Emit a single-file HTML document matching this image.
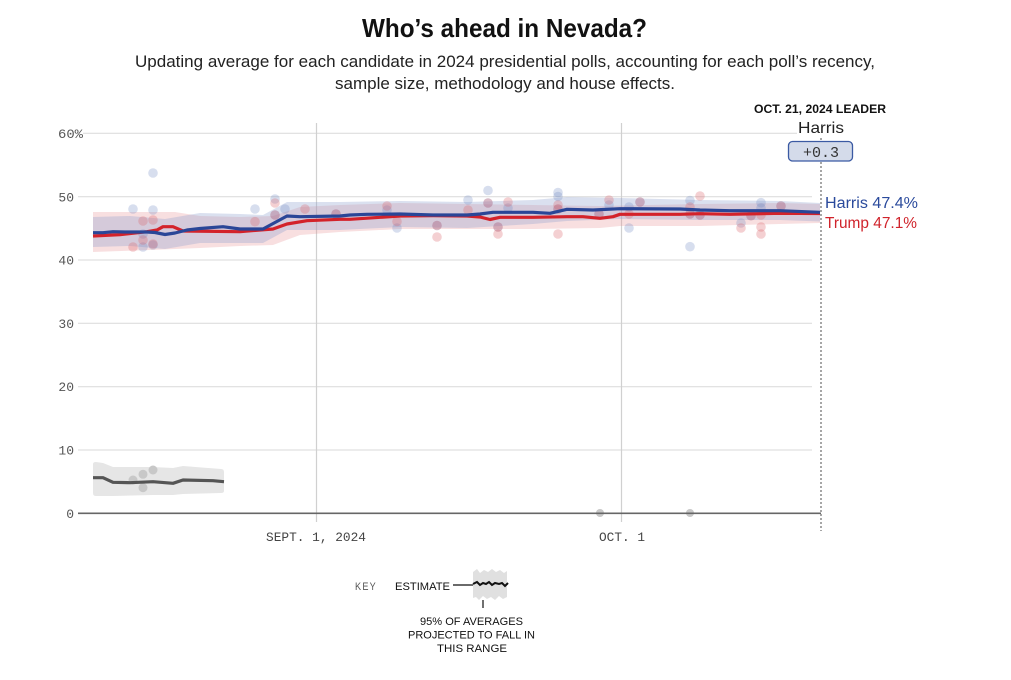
<!DOCTYPE html>
<html>
<head>
<meta charset="utf-8">
<style>
  html,body{margin:0;padding:0;background:#fff;}
  svg{display:block;}
  .sans{font-family:"Liberation Sans", sans-serif;}
  .mono{font-family:"Liberation Mono", monospace;}
</style>
</head>
<body>
<svg width="1011" height="680" viewBox="0 0 1011 680" xmlns="http://www.w3.org/2000/svg">
  <rect width="1011" height="680" fill="#fff"/>

  <!-- Title -->
  <text class="sans" x="362" y="37" font-size="26" font-weight="bold" fill="#111" textLength="285" lengthAdjust="spacingAndGlyphs">Who’s ahead in Nevada?</text>
  <text class="sans" x="135" y="67" font-size="17" fill="#222" textLength="740" lengthAdjust="spacingAndGlyphs">Updating average for each candidate in 2024 presidential polls, accounting for each poll’s recency,</text>
  <text class="sans" x="335" y="89" font-size="17" fill="#222" textLength="340" lengthAdjust="spacingAndGlyphs">sample size, methodology and house effects.</text>

  <!-- Gridlines -->
  <g stroke="#d9d9d9" stroke-width="1">
    <line x1="83" y1="133.3" x2="797" y2="133.3"/>
    <line x1="78" y1="196.7" x2="812" y2="196.7"/>
    <line x1="78" y1="260" x2="812" y2="260"/>
    <line x1="78" y1="323.3" x2="812" y2="323.3"/>
    <line x1="78" y1="386.7" x2="812" y2="386.7"/>
    <line x1="78" y1="450" x2="812" y2="450"/>
  </g>
  <!-- vertical date lines -->
  <g stroke="#d0d0d0" stroke-width="1.2">
    <line x1="316.5" y1="123" x2="316.5" y2="522"/>
    <line x1="621.5" y1="123" x2="621.5" y2="522"/>
  </g>

  <!-- Y labels -->
  <g class="mono" font-size="13" fill="#555">
    <text x="58" y="138" textLength="25" lengthAdjust="spacingAndGlyphs">60%</text>
    <text x="74" y="201.5" text-anchor="end">50</text>
    <text x="74" y="264.5" text-anchor="end">40</text>
    <text x="74" y="328" text-anchor="end">30</text>
    <text x="74" y="391" text-anchor="end">20</text>
    <text x="74" y="454.5" text-anchor="end">10</text>
    <text x="74" y="518" text-anchor="end">0</text>
  </g>

  <!-- X labels -->
  <g class="mono" font-size="13" fill="#444">
    <text x="266" y="541" textLength="100" lengthAdjust="spacingAndGlyphs">SEPT. 1, 2024</text>
    <text x="599" y="541" textLength="46" lengthAdjust="spacingAndGlyphs">OCT. 1</text>
  </g>

  <!-- Bands -->
  <path d="M93,212 L150,212 L175,212 L200,216 L240,217 L273,216 L300,207 L340,205 L400,203 L467,204 L533,205 L600,206 L700,204 L780,203 L820,204 L820,223 L780,224 L700,226 L620,226 L600,228 L533,229 L467,229 L400,229 L340,232 L300,235 L273,245 L240,246 L200,248 L150,250 L93,252 Z" fill="#e58c90" fill-opacity="0.28"/>
  <path d="M93,217 L130,216 L165,219 L200,213 L240,214 L263,215 L287,202 L340,202 L400,201 L467,202 L533,200 L567,197 L620,198 L700,200 L780,201 L820,203 L820,221.5 L780,220 L700,220 L620,219 L567,221 L533,224 L467,228 L400,227 L340,230 L287,230 L263,243 L240,243 L200,243 L165,249 L130,246 L93,247 Z" fill="#8fa0cf" fill-opacity="0.33"/>

  <!-- Gray band -->
  <path d="M93,464 Q93,462 96,462 L103,463 L113,467 L153,467 L173,468 L183,466 L221,469 Q224,469 224,472 L224,491 Q224,493 221,493 L183,494 L173,495 L153,495 L113,496 L96,496 Q93,496 93,493 Z" fill="#e6e6e6"/>

  <!-- Dots: blue -->
  <g fill="rgb(110,135,195)" fill-opacity="0.28">
    <circle cx="133" cy="209" r="4.8"/>
    <circle cx="153" cy="173" r="4.8"/>
    <circle cx="153" cy="210" r="4.8"/>
    <circle cx="143" cy="247" r="4.8"/>
    <circle cx="153" cy="245" r="4.8"/>
    <circle cx="143" cy="234" r="4.8"/>
    <circle cx="255" cy="209" r="4.8"/>
    <circle cx="275" cy="199" r="4.8"/>
    <circle cx="285" cy="209" r="4.8"/>
    <circle cx="275" cy="215" r="4.8"/>
    <circle cx="336" cy="214" r="4.8"/>
    <circle cx="387" cy="210" r="4.8"/>
    <circle cx="397" cy="228" r="4.8"/>
    <circle cx="437" cy="225.5" r="4.8"/>
    <circle cx="468" cy="200" r="4.8"/>
    <circle cx="488" cy="190.5" r="4.8"/>
    <circle cx="488" cy="203" r="4.8"/>
    <circle cx="498" cy="227" r="4.8"/>
    <circle cx="508" cy="208" r="4.8"/>
    <circle cx="558" cy="192.5" r="4.8"/>
    <circle cx="558" cy="196.5" r="4.8"/>
    <circle cx="558" cy="209" r="4.8"/>
    <circle cx="599" cy="214" r="4.8"/>
    <circle cx="609" cy="205" r="4.8"/>
    <circle cx="629" cy="207" r="4.8"/>
    <circle cx="629" cy="228" r="4.8"/>
    <circle cx="640" cy="202" r="4.8"/>
    <circle cx="690" cy="200.5" r="4.8"/>
    <circle cx="690" cy="214" r="4.8"/>
    <circle cx="700" cy="215" r="4.8"/>
    <circle cx="690" cy="246.7" r="4.8"/>
    <circle cx="741" cy="223" r="4.8"/>
    <circle cx="751" cy="215.7" r="4.8"/>
    <circle cx="761" cy="202.7" r="4.8"/>
    <circle cx="761" cy="208" r="4.8"/>
    <circle cx="781" cy="206" r="4.8"/>
  </g>
  <!-- Dots: red -->
  <g fill="rgb(220,100,105)" fill-opacity="0.3">
    <circle cx="133" cy="247" r="4.8"/>
    <circle cx="143" cy="221" r="4.8"/>
    <circle cx="153" cy="220" r="4.8"/>
    <circle cx="143" cy="240" r="4.8"/>
    <circle cx="153" cy="244" r="4.8"/>
    <circle cx="255" cy="221.7" r="4.8"/>
    <circle cx="275" cy="203" r="4.8"/>
    <circle cx="275" cy="215" r="4.8"/>
    <circle cx="305" cy="209" r="4.8"/>
    <circle cx="336" cy="214" r="4.8"/>
    <circle cx="387" cy="206" r="4.8"/>
    <circle cx="397" cy="221.5" r="4.8"/>
    <circle cx="437" cy="225.5" r="4.8"/>
    <circle cx="437" cy="237" r="4.8"/>
    <circle cx="468" cy="210" r="4.8"/>
    <circle cx="488" cy="203" r="4.8"/>
    <circle cx="498" cy="227" r="4.8"/>
    <circle cx="498" cy="234" r="4.8"/>
    <circle cx="508" cy="202" r="4.8"/>
    <circle cx="558" cy="205" r="4.8"/>
    <circle cx="558" cy="209" r="4.8"/>
    <circle cx="558" cy="234" r="4.8"/>
    <circle cx="599" cy="214" r="4.8"/>
    <circle cx="609" cy="200" r="4.8"/>
    <circle cx="629" cy="214" r="4.8"/>
    <circle cx="640" cy="202" r="4.8"/>
    <circle cx="700" cy="196" r="4.8"/>
    <circle cx="690" cy="207" r="4.8"/>
    <circle cx="690" cy="214" r="4.8"/>
    <circle cx="700" cy="215" r="4.8"/>
    <circle cx="741" cy="228" r="4.8"/>
    <circle cx="751" cy="215.7" r="4.8"/>
    <circle cx="761" cy="215" r="4.8"/>
    <circle cx="761" cy="227" r="4.8"/>
    <circle cx="761" cy="234" r="4.8"/>
    <circle cx="781" cy="206" r="4.8"/>
  </g>
  <!-- Dots: gray -->
  <g fill="#c8c8c8">
    <circle cx="133" cy="480" r="4.5"/>
    <circle cx="143" cy="474.3" r="4.5"/>
    <circle cx="143" cy="487.7" r="4.5"/>
    <circle cx="153" cy="470" r="4.5"/>
    <circle cx="600" cy="513" r="4"/>
    <circle cx="690" cy="513" r="4"/>
  </g>

  <!-- zero line -->
  <line x1="78" y1="513.3" x2="821" y2="513.3" stroke="#666" stroke-width="1.6"/>

  <!-- dotted leader line -->
  <line x1="821" y1="138" x2="821" y2="531" stroke="#888" stroke-width="1.5" stroke-dasharray="2,2"/>

  <!-- Lines -->
  <polyline fill="none" stroke="#555" stroke-width="3.2" stroke-linejoin="round" points="93,477.7 103,477.7 113,482.3 130,482.7 153,481.7 173,483.3 183,480 213,480.7 224,481.7"/>
  <polyline fill="none" stroke="#d3222a" stroke-width="3.2" stroke-linejoin="round" points="93,236 120,234.7 147,231.7 157,230 163,226.7 173,226.7 183,231 240,231.7 260,230 273,229 287,224 307,220.7 340,219.3 350,219.3 400,216 433,215.7 467,216 480,217 490,219.5 500,217.3 533,217.3 567,216.7 583,216.7 600,218.3 613,216.7 620,214.3 680,214.3 700,213.7 730,214.3 780,213.3 820,213.5"/>
  <polyline fill="none" stroke="#2a4697" stroke-width="3.2" stroke-linejoin="round" points="93,232.7 103,232.7 113,231.7 125,232 147,232 155,232.5 165,234.5 175,233 187,230 200,228.5 223,226.7 240,229 263,229 287,216 300,216.7 340,216 350,215 367,214.3 400,214 433,215 467,215 480,214 493,212.3 533,212.3 550,213.3 567,209.3 593,210 620,208.7 680,209 700,210 730,210.7 780,210.7 820,212.3"/>

  <!-- Leader annotation -->
  <text class="sans" x="754" y="113" font-size="12" font-weight="bold" fill="#111" textLength="132" lengthAdjust="spacingAndGlyphs">OCT. 21, 2024 LEADER</text>
  <text class="sans" x="798" y="133" font-size="16" fill="#222" textLength="46" lengthAdjust="spacingAndGlyphs">Harris</text>
  <rect x="788.5" y="141.5" width="64" height="19.5" rx="4" ry="4" fill="#d4dbea" stroke="#3b5aa3" stroke-width="1.3"/>
  <text class="mono" x="821" y="157" font-size="15" fill="#333" text-anchor="middle">+0.3</text>

  <text class="sans" x="825" y="208" font-size="15.5" fill="#2a4a9c" textLength="93" lengthAdjust="spacingAndGlyphs">Harris 47.4%</text>
  <text class="sans" x="825" y="228" font-size="15.5" fill="#d0232b" textLength="92" lengthAdjust="spacingAndGlyphs">Trump 47.1%</text>

  <!-- Key -->
  <text class="sans" x="355" y="590" font-size="11" fill="#555" letter-spacing="1.5" textLength="22" lengthAdjust="spacingAndGlyphs">KEY</text>
  <text class="sans" x="395" y="590" font-size="11" fill="#111" textLength="55" lengthAdjust="spacingAndGlyphs">ESTIMATE</text>
  <line x1="453" y1="585" x2="473" y2="585" stroke="#111" stroke-width="1.2"/>
  <path d="M473,572 L477,569 L480,573 L484,570 L488,572 L492,569 L496,572 L500,570 L504,573 L507,571 L507,597 L503,599 L499,596 L495,600 L491,597 L487,599 L483,596 L479,600 L476,597 L473,598 Z" fill="#e0e0e0"/>
  <polyline fill="none" stroke="#111" stroke-width="2" points="473,584 477,582 480,585 483,583 486,584 489,582 492,585 495,583 499,584 502,583 505,586 508,583"/>
  <line x1="483" y1="600" x2="483" y2="608" stroke="#111" stroke-width="1.2"/>
  <g class="sans" font-size="11" fill="#111">
    <text x="420" y="625" textLength="103" lengthAdjust="spacingAndGlyphs">95% OF AVERAGES</text>
    <text x="408" y="638.5" textLength="127" lengthAdjust="spacingAndGlyphs">PROJECTED TO FALL IN</text>
    <text x="437" y="652" textLength="70" lengthAdjust="spacingAndGlyphs">THIS RANGE</text>
  </g>
</svg>
</body>
</html>
